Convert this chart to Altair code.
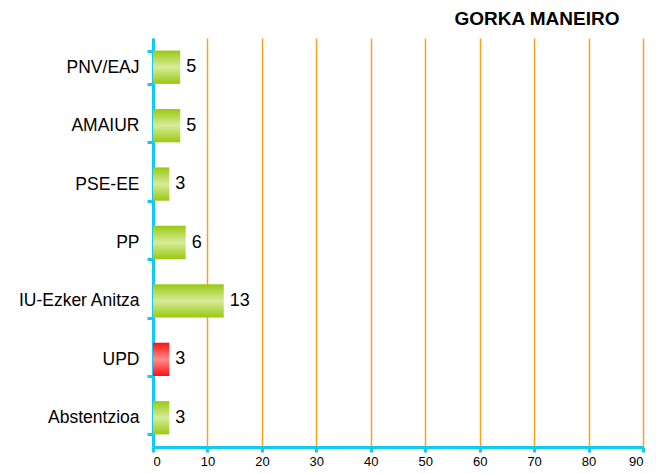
import altair as alt
import pandas as pd

parties = ["PNV/EAJ", "AMAIUR", "PSE-EE", "PP", "IU-Ezker Anitza", "UPD", "Abstentzioa"]
votes = [5, 5, 3, 6, 13, 3, 3]
own_party = ["no", "no", "no", "no", "no", "yes", "no"]
x_ticks = [0, 10, 20, 30, 40, 50, 60, 70, 80, 90]

df = pd.DataFrame({"party": parties, "votes": votes, "own": own_party})

FONT = "Liberation Sans"

green = alt.Gradient(
    gradient="linear",
    stops=[alt.GradientStop(color="#99C910", offset=0),
           alt.GradientStop(color="#D8EB9A", offset=0.5),
           alt.GradientStop(color="#99C910", offset=1)],
    x1=0, x2=0, y1=0, y2=1,
)
red = alt.Gradient(
    gradient="linear",
    stops=[alt.GradientStop(color="#FF0F0F", offset=0),
           alt.GradientStop(color="#FF8C8C", offset=0.5),
           alt.GradientStop(color="#FF0F0F", offset=1)],
    x1=0, x2=0, y1=0, y2=1,
)

x_enc = alt.X(
    "votes:Q",
    scale=alt.Scale(domain=[0, 90], nice=False),
    axis=alt.Axis(
        values=x_ticks, title=None, grid=True, gridColor="#F9A21B", gridWidth=1.5,
        domainColor="#12C8F5", domainWidth=3, tickColor="#12C8F5", tickWidth=3,
        tickSize=5, labelFont=FONT, labelFontSize=13, labelColor="#000000",
        labelPadding=3,
    ),
)
y_enc = alt.Y(
    "party:N", sort=parties,
    scale=alt.Scale(paddingInner=0.43, paddingOuter=0.215),
    axis=alt.Axis(
        title=None, domainColor="#12C8F5", domainWidth=3, tickColor="#12C8F5",
        tickWidth=3, tickSize=6, tickBand="extent", labelFont=FONT,
        labelFontSize=17.5, labelColor="#000000", labelPadding=8,
    ),
)

base = alt.Chart(df)

bars_green = base.transform_filter(alt.datum.own == "no").mark_bar(color=green).encode(x=x_enc, y=y_enc)
bars_red = base.transform_filter(alt.datum.own == "yes").mark_bar(color=red).encode(x=x_enc, y=y_enc)
labels = base.mark_text(align="left", baseline="middle", dx=6, font=FONT, fontSize=18, color="#000000").encode(
    x=x_enc, y=y_enc, text="votes:Q"
)

chart = (
    alt.layer(bars_green, bars_red, labels)
    .properties(
        width=490, height=409,
        autosize=alt.AutoSizeParams(type="none"),
        padding={"left": 145, "top": 30, "right": 5, "bottom": 26},
        title=alt.TitleParams("GORKA MANEIRO", anchor="end", dx=-25, offset=0,
                              font=FONT, fontSize=19, fontWeight="bold", color="#000000"),
    )
    .configure_view(stroke=None)
)

chart.save("out.html", embed_options={"renderer": "svg", "actions": False})
